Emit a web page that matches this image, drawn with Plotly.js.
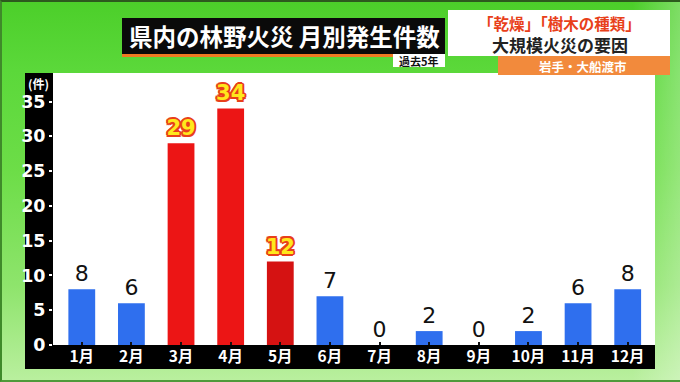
<!DOCTYPE html>
<html>
<head>
<meta charset="utf-8">
<script src="https://cdn.plot.ly/plotly-3.0.1.min.js"></script>
<style>
  html, body { margin: 0; padding: 0; width: 680px; height: 382px; overflow: hidden; }
  #wrap {
    position: relative; width: 680px; height: 382px; box-sizing: border-box;
    border-top: 2px solid #2d5a1e; border-left: 2px solid #3f8a2a; border-bottom: 2px solid #4f9a3a;
    background:
      linear-gradient(90deg, rgba(255,255,255,0) 93%, rgba(255,255,255,0.28) 100%),
      linear-gradient(180deg, #4ccf2a 0%, #5bd83a 18%, #6ddd48 45%, #8ee46c 75%, #b9ef9e 100%);
  }
  #chart { position: absolute; left: -2px; top: -2px; width: 680px; height: 382px; }
</style>
</head>
<body>
<div id="wrap"><div id="chart"></div></div>
<script>
// ---- data ----
const months = ['1月','2月','3月','4月','5月','6月','7月','8月','9月','10月','11月','12月'];
const counts = [8, 6, 29, 34, 12, 7, 0, 2, 0, 2, 6, 8];
const peakMonths = ['3月','4月','5月'];
const yTickVals = [0, 5, 10, 15, 20, 25, 30, 35];
const yTickText = ['0', '5', '10', '15', '20', '25', '30', '35'];
const titleText = '県内の林野火災 月別発生件数';
const periodText = '過去5年';
const headline1 = '「乾燥」「樹木の種類」';
const headline2 = '大規模火災の要因';
const placeText = '岩手・大船渡市';
const unitText = '(件)';

// ---- geometry helpers (pixel -> paper) ----
const W = 680, H = 382;
const M = { l: 53, r: 25, t: 73, b: 37 };
const PW = W - M.l - M.r, PH = H - M.t - M.b;
const xp = px => (px - M.l) / PW;
const yp = py => (H - M.b - py) / PH;

const isPeak = m => peakMonths.includes(m);
const normalY = counts.map((v, i) => isPeak(months[i]) ? null : v);
const peakY = counts.map((v, i) => isPeak(months[i]) ? v : null);
const redColors = months.map(m => m === '5月' ? '#d51212' : '#ec1515');

const outline = '#e8401a';
const traces = [
  {
    type: 'bar', x: months, y: normalY,
    text: normalY.map(v => v === null ? '' : String(v)),
    textposition: 'outside', cliponaxis: false, constraintext: 'none',
    textfont: { family: 'DejaVu Sans', size: 22, color: '#111111' },
    marker: { color: '#2f6fee', line: { width: 0 } },
    width: 0.54, hoverinfo: 'skip'
  },
  {
    type: 'bar', x: months, y: peakY,
    text: peakY.map(v => v === null ? '' : String(v)),
    textposition: 'outside', cliponaxis: false, constraintext: 'none',
    textfont: {
      family: 'DejaVu Sans', size: 21, weight: 'bold', color: '#ffe81c',
      shadow: `2px 0 0 ${outline}, -2px 0 0 ${outline}, 0 2px 0 ${outline}, 0 -2px 0 ${outline}, 1.5px 1.5px 0 ${outline}, -1.5px -1.5px 0 ${outline}, 1.5px -1.5px 0 ${outline}, -1.5px 1.5px 0 ${outline}`
    },
    marker: { color: redColors, line: { width: 0 } },
    width: 0.54, hoverinfo: 'skip'
  }
];

const shapes = [
  { type: 'rect', xref: 'paper', yref: 'paper', layer: 'below', x0: xp(25), x1: xp(53), y0: yp(369), y1: yp(73), fillcolor: '#000', line: { width: 0 } },
  { type: 'rect', xref: 'paper', yref: 'paper', layer: 'below', x0: xp(25), x1: xp(655), y0: yp(369), y1: yp(345), fillcolor: '#000', line: { width: 0 } },
  { type: 'rect', xref: 'paper', yref: 'paper', layer: 'below', x0: xp(122), x1: xp(445), y0: yp(54), y1: yp(18), fillcolor: '#0a0a0a', line: { width: 0 } },
  { type: 'rect', xref: 'paper', yref: 'paper', layer: 'below', x0: xp(122), x1: xp(393), y0: yp(57), y1: yp(54), fillcolor: '#f07a22', line: { width: 0 } },
  { type: 'rect', xref: 'paper', yref: 'paper', layer: 'below', x0: xp(393), x1: xp(445), y0: yp(67), y1: yp(54), fillcolor: '#ffffff', line: { width: 0 } },
  { type: 'rect', xref: 'paper', yref: 'paper', layer: 'below', x0: xp(448), x1: xp(670), y0: yp(56), y1: yp(10), fillcolor: '#ffffff', line: { width: 0 } },
  { type: 'rect', xref: 'paper', yref: 'paper', layer: 'below', x0: xp(498), x1: xp(670), y0: yp(75), y1: yp(56), fillcolor: '#f28a3c', line: { width: 0 } }
];

const ann = (text, cx, cy, size, color, weight, family) => ({
  text: text, xref: 'paper', yref: 'paper', x: xp(cx), y: yp(cy),
  xanchor: 'center', yanchor: 'middle', showarrow: false,
  font: { family: family || 'Noto Sans CJK JP', size: size, color: color, weight: weight || 'normal' }
});

const annotations = [
  ann(titleText, 284, 36, 23.5, '#ffffff', 'bold'),
  ann(periodText, 419, 61, 11, '#111111', 'bold'),
  ann(headline1, 559, 23, 15.5, '#e8401a', 'bold'),
  ann(headline2, 560, 45, 17, '#222222', 'bold'),
  ann(placeText, 583, 66, 12.5, '#ffffff', 'bold'),
  ann(unitText, 38.5, 83, 12, '#ffffff', 'bold')
];

const layout = {
  width: W, height: H,
  margin: M,
  paper_bgcolor: 'rgba(0,0,0,0)',
  plot_bgcolor: '#ffffff',
  barmode: 'overlay',
  showlegend: false,
  xaxis: {
    type: 'category', range: [-0.58, 11.55], fixedrange: true,
    showgrid: false, zeroline: false, showline: false,
    ticks: 'inside', ticklen: 3, tickwidth: 2, tickcolor: '#111',
    tickfont: { family: 'Noto Sans CJK JP', size: 15.5, color: '#ffffff', weight: 'bold' }
  },
  yaxis: {
    range: [0, 39.1], fixedrange: true,
    tickvals: yTickVals, ticktext: yTickText,
    showgrid: false, zeroline: false, showline: false,
    ticks: 'outside', ticklen: 3, tickwidth: 2, tickcolor: '#ffffff',
    tickfont: { family: 'DejaVu Sans', size: 17.5, color: '#ffffff', weight: 'bold' }
  },
  shapes: shapes,
  annotations: annotations
};

Plotly.newPlot('chart', traces, layout, { staticPlot: true, displayModeBar: false });
</script>
</body>
</html>
